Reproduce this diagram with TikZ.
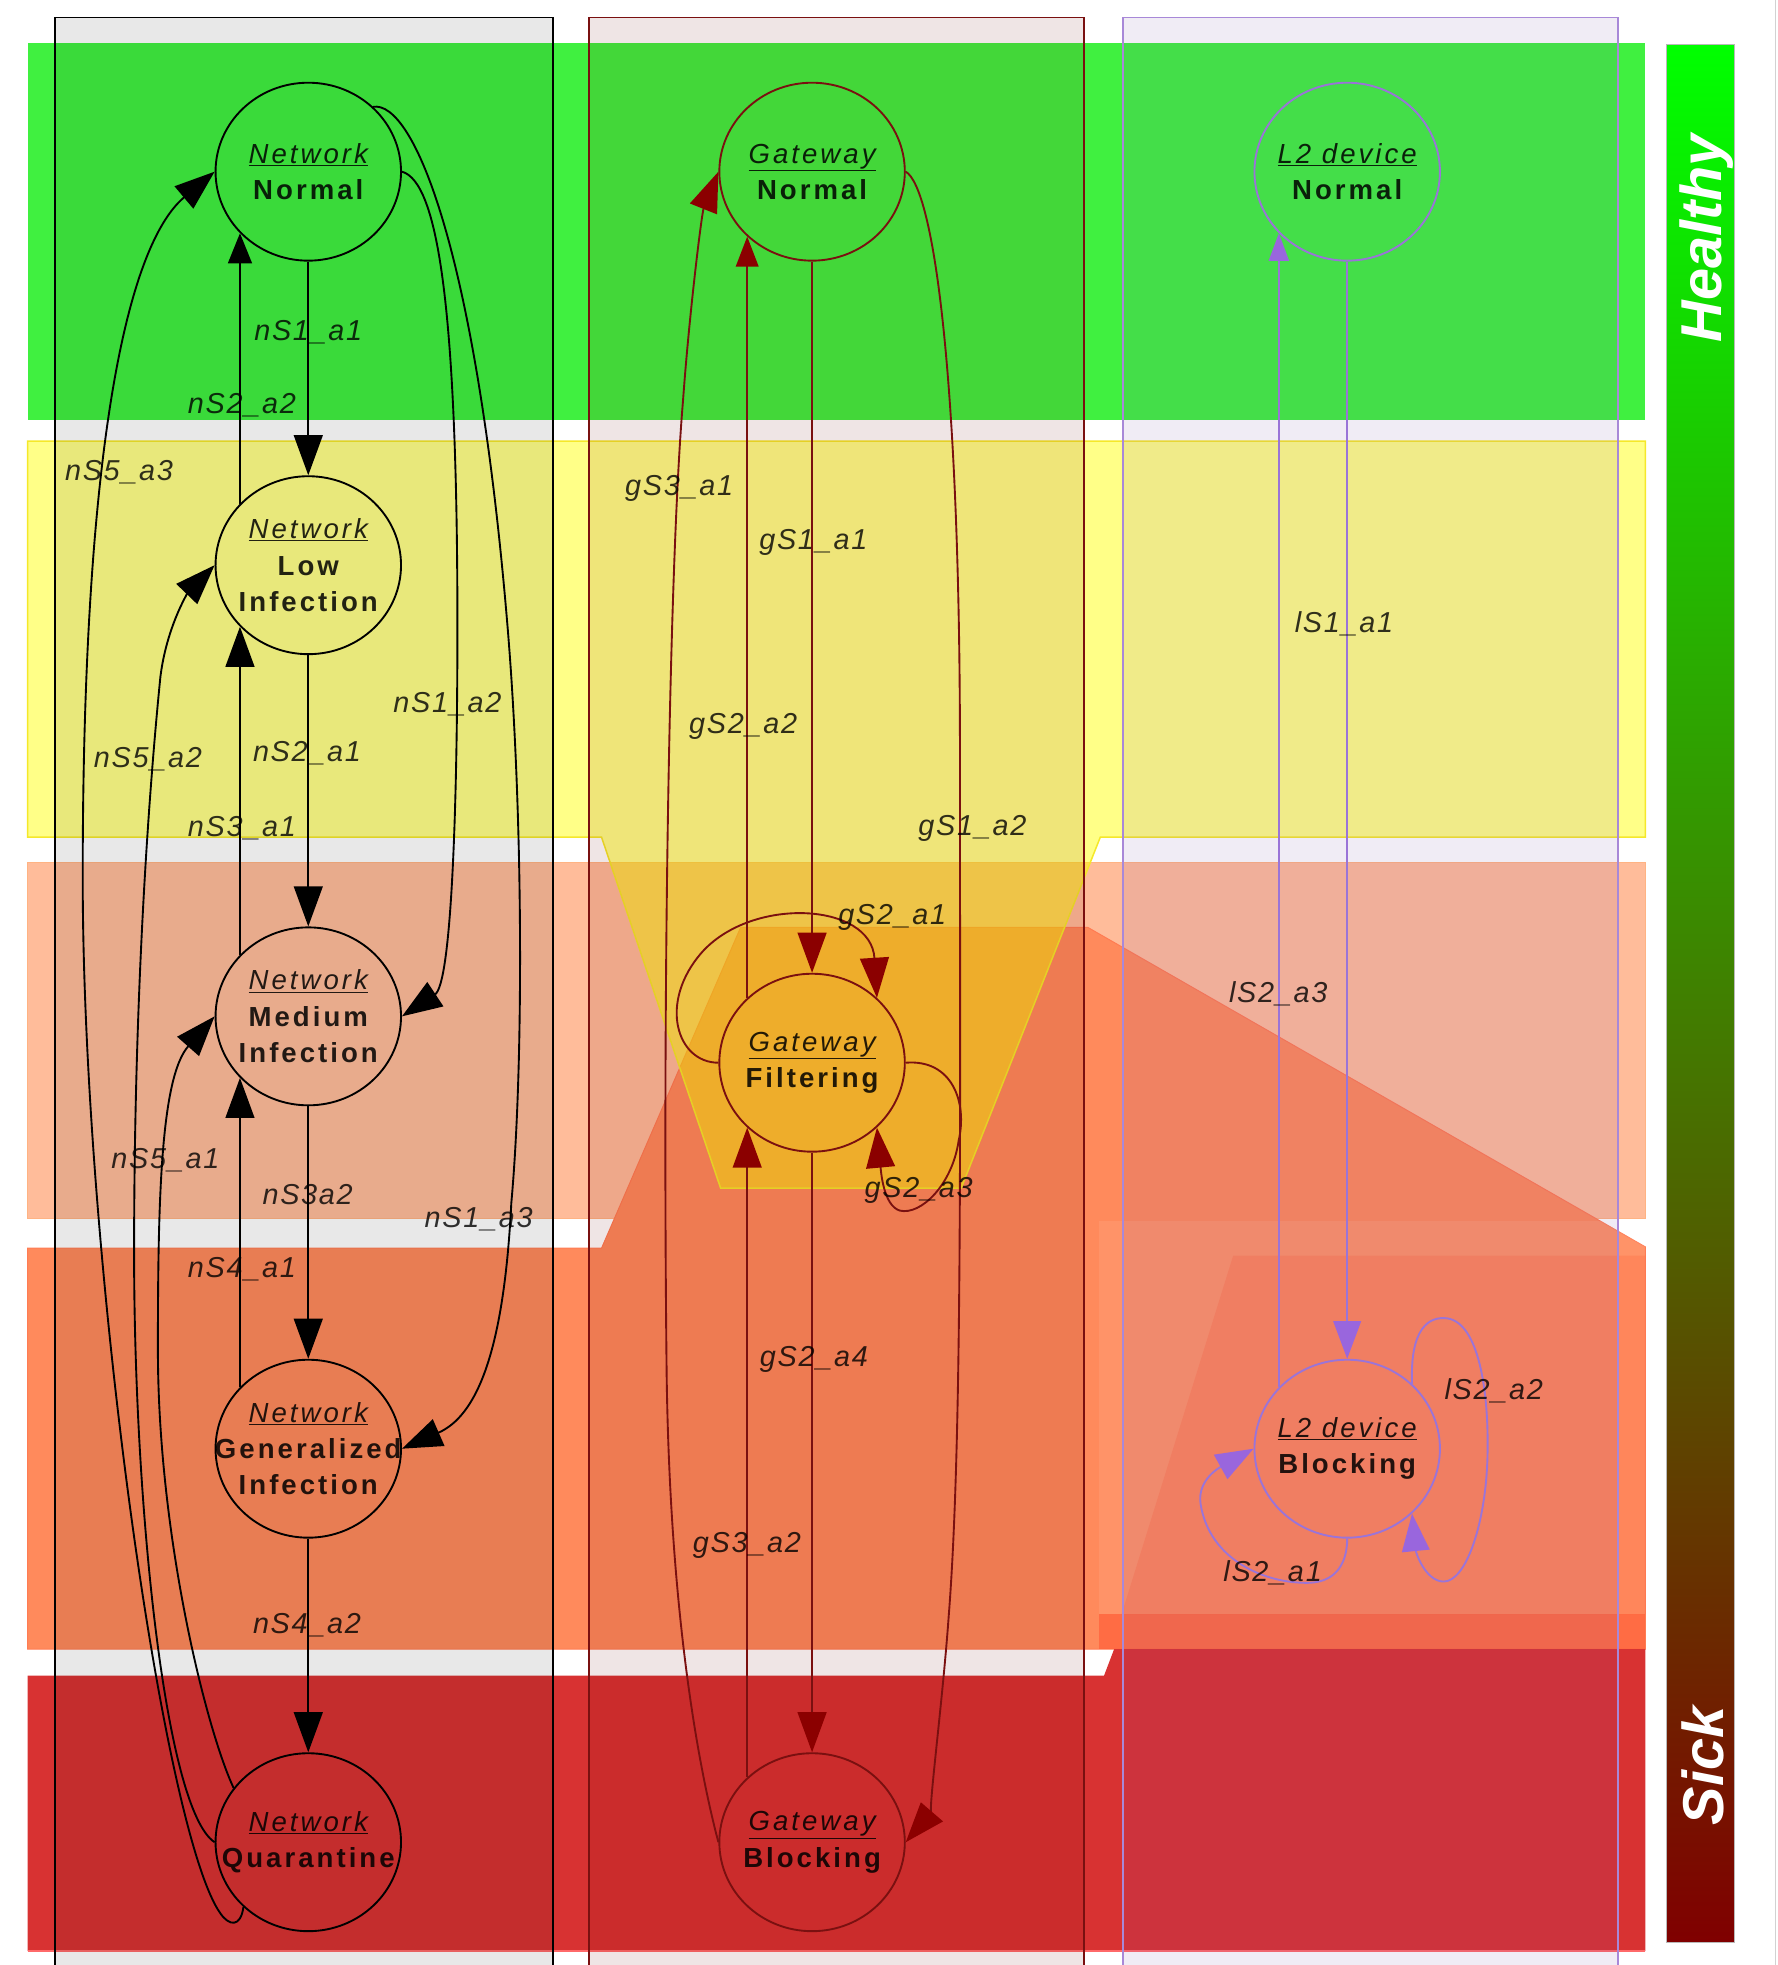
\documentclass[tikz,border=0pt]{standalone}
\usepackage{fontspec}
\setmainfont{Liberation Sans}
\newfontfamily\statefont{Liberation Sans}[LetterSpace=11]
\newfontfamily\edgefont{Liberation Sans}[LetterSpace=6]
\usetikzlibrary{shapes.geometric,arrows.meta}

\definecolor{bandgreen}{HTML}{40F040}
\definecolor{bandyellow}{HTML}{FFFF00}
\definecolor{yellowedge}{HTML}{F5E82A}
\definecolor{bandsalmon}{HTML}{FFBC9A}
\definecolor{bandorange}{HTML}{FF8A5C}
\definecolor{bandred}{HTML}{D83232}
\definecolor{redrim}{HTML}{FF6A6A}
\definecolor{gwline}{HTML}{7A1010}
\definecolor{gwtip}{HTML}{8B0000}
\definecolor{gwcol}{HTML}{600000}
\definecolor{l2line}{HTML}{9A74D8}
\definecolor{l2tip}{HTML}{9966DD}
\definecolor{l2col}{HTML}{7040A0}
\definecolor{l2border}{HTML}{A888D8}
\definecolor{bartop}{HTML}{00FF00}
\definecolor{barbottom}{HTML}{800000}
\definecolor{deeporange}{HTML}{FF5A30}
\definecolor{hotorange}{HTML}{FF4020}

% state text: underlined italic head line, bold lines below, centred without widening the shape
\newcommand{\sthead}[1]{\makebox[0pt]{\itshape\underline{#1}}}
\newcommand{\stline}[1]{\makebox[0pt]{\bfseries #1}}

\begin{document}
\begin{tikzpicture}[x=1pt,y=-1pt,
  state/.style={ellipse, minimum width=148pt, minimum height=142pt, inner sep=0pt,
    line width=1.5pt, align=center, text=black, text opacity=0.85,
    font=\statefont\fontsize{22}{29}\selectfont},
  netstate/.style={state, draw=black},
  gwstate/.style={state, draw=gwline},
  l2state/.style={state, draw=l2line},
  netedge/.style={draw=black, line width=1.5pt, -{Triangle[length=32pt,width=23pt]}},
  netedgesmall/.style={draw=black, line width=1.5pt, -{Triangle[length=24pt,width=19pt]}},
  gwedge/.style={draw=gwline, line width=1.5pt, -{Triangle[length=32pt,width=23pt,color=gwtip]}},
  gwedgesmall/.style={draw=gwline, line width=1.5pt, -{Triangle[length=24pt,width=18pt,color=gwtip]}},
  l2edge/.style={draw=l2line, line width=1.5pt, -{Triangle[length=30pt,width=22pt,color=l2tip]}},
  l2edgesmall/.style={draw=l2line, line width=1.5pt, -{Triangle[length=22pt,width=16pt,color=l2tip]}},
  edgelabel/.style={inner sep=0pt, text=black, text opacity=0.8,
    font=\edgefont\itshape\fontsize{23}{27}\selectfont},
  sidelabel/.style={rotate=90, anchor=base, inner sep=0pt, text=white,
    font=\fontsize{46}{50}\selectfont\bfseries\itshape}
]
\useasboundingbox (0,0) rectangle (1418,1568);

% ---------- severity bands ----------
\fill[bandgreen] (22,34) rectangle (1313,335);
\path[fill=bandsalmon, draw=bandsalmon!85!orange, line width=0.8pt] (22,688) rectangle (1313,972);
\path[fill=bandorange, draw=bandorange!90!red, line width=0.8pt]
  (22,996) -- (480,996) -- (591,740) -- (868,740) -- (1313,995) -- (1313,1316) -- (22,1316) -- cycle;
\fill[white, fill opacity=0.08] (877,974) rectangle (1313,1288);
\fill[deeporange, fill opacity=0.22] (984,1002) -- (1313,1002) -- (1313,1288) -- (895,1288) -- cycle;
\fill[hotorange, fill opacity=0.4] (877,1288) rectangle (1313,1316);
\fill[bandred] (22,1337) -- (881,1337) -- (889,1316) -- (1313,1316) -- (1313,1557) -- (22,1557) -- cycle;
\draw[redrim, line width=1.2pt] (22,1557) -- (1313,1557);
\path[fill=bandyellow, fill opacity=0.47, draw=yellowedge, line width=1.2pt]
  (22,352) -- (1313,352) -- (1313,668) -- (878,668) -- (767,948) -- (575,948) -- (480,668) -- (22,668) -- cycle;

% ---------- component columns ----------
\fill[black, fill opacity=0.09] (44,14) rectangle (441,1568);
\fill[gwcol, fill opacity=0.1] (470,14) rectangle (865,1568);
\fill[l2col, fill opacity=0.1] (896,14) rectangle (1291,1568);
\draw[black, line width=1.4pt] (44,1568) -- (44,14) -- (441,14) -- (441,1568);
\draw[gwline, line width=1.4pt] (470,1568) -- (470,14) -- (865,14) -- (865,1568);
\draw[l2border, line width=1.4pt] (896,1568) -- (896,14) -- (1291,14) -- (1291,1568);

% ---------- health scale ----------
\shade[top color=bartop, bottom color=barbottom] (1330,35.6) rectangle (1384,1550);
\draw[gray!55, line width=0.6pt] (1330,35.6) rectangle (1384,1550);
\draw[gray!35, line width=1pt] (1416.5,0) -- (1416.5,1568);
\node[sidelabel] (healthy) at (1374,190) {Healthy};
\node[sidelabel] (sick) at (1375,1409) {Sick};

% ---------- states ----------
\node[netstate] (nN) at (246,137) {\sthead{Network}\\\stline{Normal}};
\node[netstate] (nL) at (246,451) {\sthead{Network}\\\stline{Low}\\\stline{Infection}};
\node[netstate] (nM) at (246,811) {\sthead{Network}\\\stline{Medium}\\\stline{Infection}};
\node[netstate] (nG) at (246,1156) {\sthead{Network}\\\stline{Generalized}\\\stline{Infection}};
\node[netstate] (nQ) at (246,1470) {\sthead{Network}\\\stline{Quarantine}};

\node[gwstate] (gN) at (648,137) {\sthead{Gateway}\\\stline{Normal}};
\node[gwstate] (gF) at (648,848) {\sthead{Gateway}\\\stline{Filtering}};
\node[gwstate] (gB) at (648,1470) {\sthead{Gateway}\\\stline{Blocking}};

\node[l2state] (lN) at (1075,137) {\sthead{L2 device}\\\stline{Normal}};
\node[l2state] (lB) at (1075,1156) {\sthead{L2 device}\\\stline{Blocking}};

% ---------- network transitions ----------
\draw[netedge] (nN.south) -- (nL.north);
\draw[netedgesmall] (nL.138) -- (nN.222);
\draw[netedge] (nL.south) -- (nM.north);
\draw[netedge] (nM.138) -- (nL.222);
\draw[netedge] (nM.south) -- (nG.north);
\draw[netedge] (nG.138) -- (nM.222);
\draw[netedge] (nG.south) -- (nQ.north);
\draw[netedge] (nQ.225) .. controls (192,1538) and (183,1537) .. (176,1527)
  .. controls (129.6,1462) and (66,1000) .. (66,700)
  .. controls (66,350) and (102.7,194.6) .. (nN.west);
\draw[netedge] (nQ.west) .. controls (131.5,1444) and (107,1200) .. (107,1000)
  .. controls (107,800) and (118,640) .. (128,540)
  .. controls (133,500) and (150,473) .. (nL.west);
\draw[netedge] (nQ.144) .. controls (165,1381) and (126,1227) .. (126,1077)
  .. controls (126,960) and (128,860) .. (nM.west);
\draw[netedge] (nN.east) .. controls (350,145) and (365,250) .. (365,500)
  .. controls (365,650) and (360,785) .. (nM.east);
\draw[netedge] (nN.45) .. controls (330,80) and (380,200) .. (405,500)
  .. controls (417.5,650) and (418,850) .. (408,960)
  .. controls (402,1080) and (380,1130) .. (nG.east);

% ---------- gateway transitions ----------
\draw[gwedge] (gN.south) -- (gF.north);
\draw[gwedgesmall] (gF.135) -- (gN.225);
\draw[gwedge] (gF.south) -- (gB.north);
\draw[gwedge] (gB.135) -- (gF.225);
\draw[gwedge] (gB.west) .. controls (560,1420) and (535,1300) .. (532,1100)
  .. controls (528.5,800) and (534,450) .. (545,320)
  .. controls (550,250) and (560,170) .. (gN.west);
\draw[gwedge] (gN.east) .. controls (745,150) and (766,300) .. (766,600)
  .. controls (766,900) and (768,1150) .. (757,1290)
  .. controls (752,1360) and (740,1450) .. (gB.east);
\draw[gwedge] (gF.west) .. controls (540,848) and (525,800) .. (560,760)
  .. controls (600,715) and (695,720) .. (gF.45);
\draw[gwedge] (gF.east) .. controls (760,845) and (772,880) .. (765,910)
  .. controls (760,945) and (735,970) .. (718,966)
  .. controls (705,962) and (703,935) .. (gF.315);

% ---------- L2 device transitions ----------
\draw[l2edge] (lN.south) -- (lB.north);
\draw[l2edgesmall] (lB.138) -- (lN.222);
\draw[l2edge] (lB.45) .. controls (1125,1060) and (1140,1050) .. (1155,1052)
  .. controls (1180,1056) and (1188,1110) .. (1187,1160)
  .. controls (1186,1215) and (1170,1262) .. (1152,1262)
  .. controls (1138,1262) and (1130,1240) .. (lB.315);
\draw[l2edge] (lB.south) .. controls (1075,1245) and (1068,1262) .. (1045,1263)
  .. controls (1010,1264) and (965,1245) .. (958,1200)
  .. controls (955,1180) and (975,1170) .. (lB.west);

% ---------- transition labels ----------
\node[edgelabel] (t-ns1a1) at (246,265) {nS1\_a1};
\node[edgelabel] (t-ns2a2) at (193,323) {nS2\_a2};
\node[edgelabel] (t-ns5a3) at (95,377) {nS5\_a3};
\node[edgelabel] (t-ns1a2) at (357,562) {nS1\_a2};
\node[edgelabel] (t-ns5a2) at (118,606) {nS5\_a2};
\node[edgelabel] (t-ns2a1) at (245,601) {nS2\_a1};
\node[edgelabel] (t-ns3a1) at (193,661) {nS3\_a1};
\node[edgelabel] (t-ns5a1) at (132,926) {nS5\_a1};
\node[edgelabel] (t-ns3a2) at (245.5,953) {nS3a2};
\node[edgelabel] (t-ns1a3) at (382,973) {nS1\_a3};
\node[edgelabel] (t-ns4a1) at (193,1013) {nS4\_a1};
\node[edgelabel] (t-ns4a2) at (245,1297) {nS4\_a2};

\node[edgelabel] (t-gs3a1) at (542,390) {gS3\_a1};
\node[edgelabel] (t-gs1a1) at (649,433) {gS1\_a1};
\node[edgelabel] (t-gs2a2) at (593,580) {gS2\_a2};
\node[edgelabel] (t-gs1a2) at (776,661) {gS1\_a2};
\node[edgelabel] (t-gs2a1) at (712,732) {gS2\_a1};
\node[edgelabel] (t-gs2a3) at (733,950) {gS2\_a3};
\node[edgelabel] (t-gs2a4) at (649.5,1085) {gS2\_a4};
\node[edgelabel] (t-gs3a2) at (596,1233) {gS3\_a2};

\node[edgelabel] (t-ls1a1) at (1072.5,498) {lS1\_a1};
\node[edgelabel] (t-ls2a3) at (1020,793) {lS2\_a3};
\node[edgelabel] (t-ls2a2) at (1192,1110) {lS2\_a2};
\node[edgelabel] (t-ls2a1) at (1015.5,1255) {lS2\_a1};
\end{tikzpicture}
\end{document}
